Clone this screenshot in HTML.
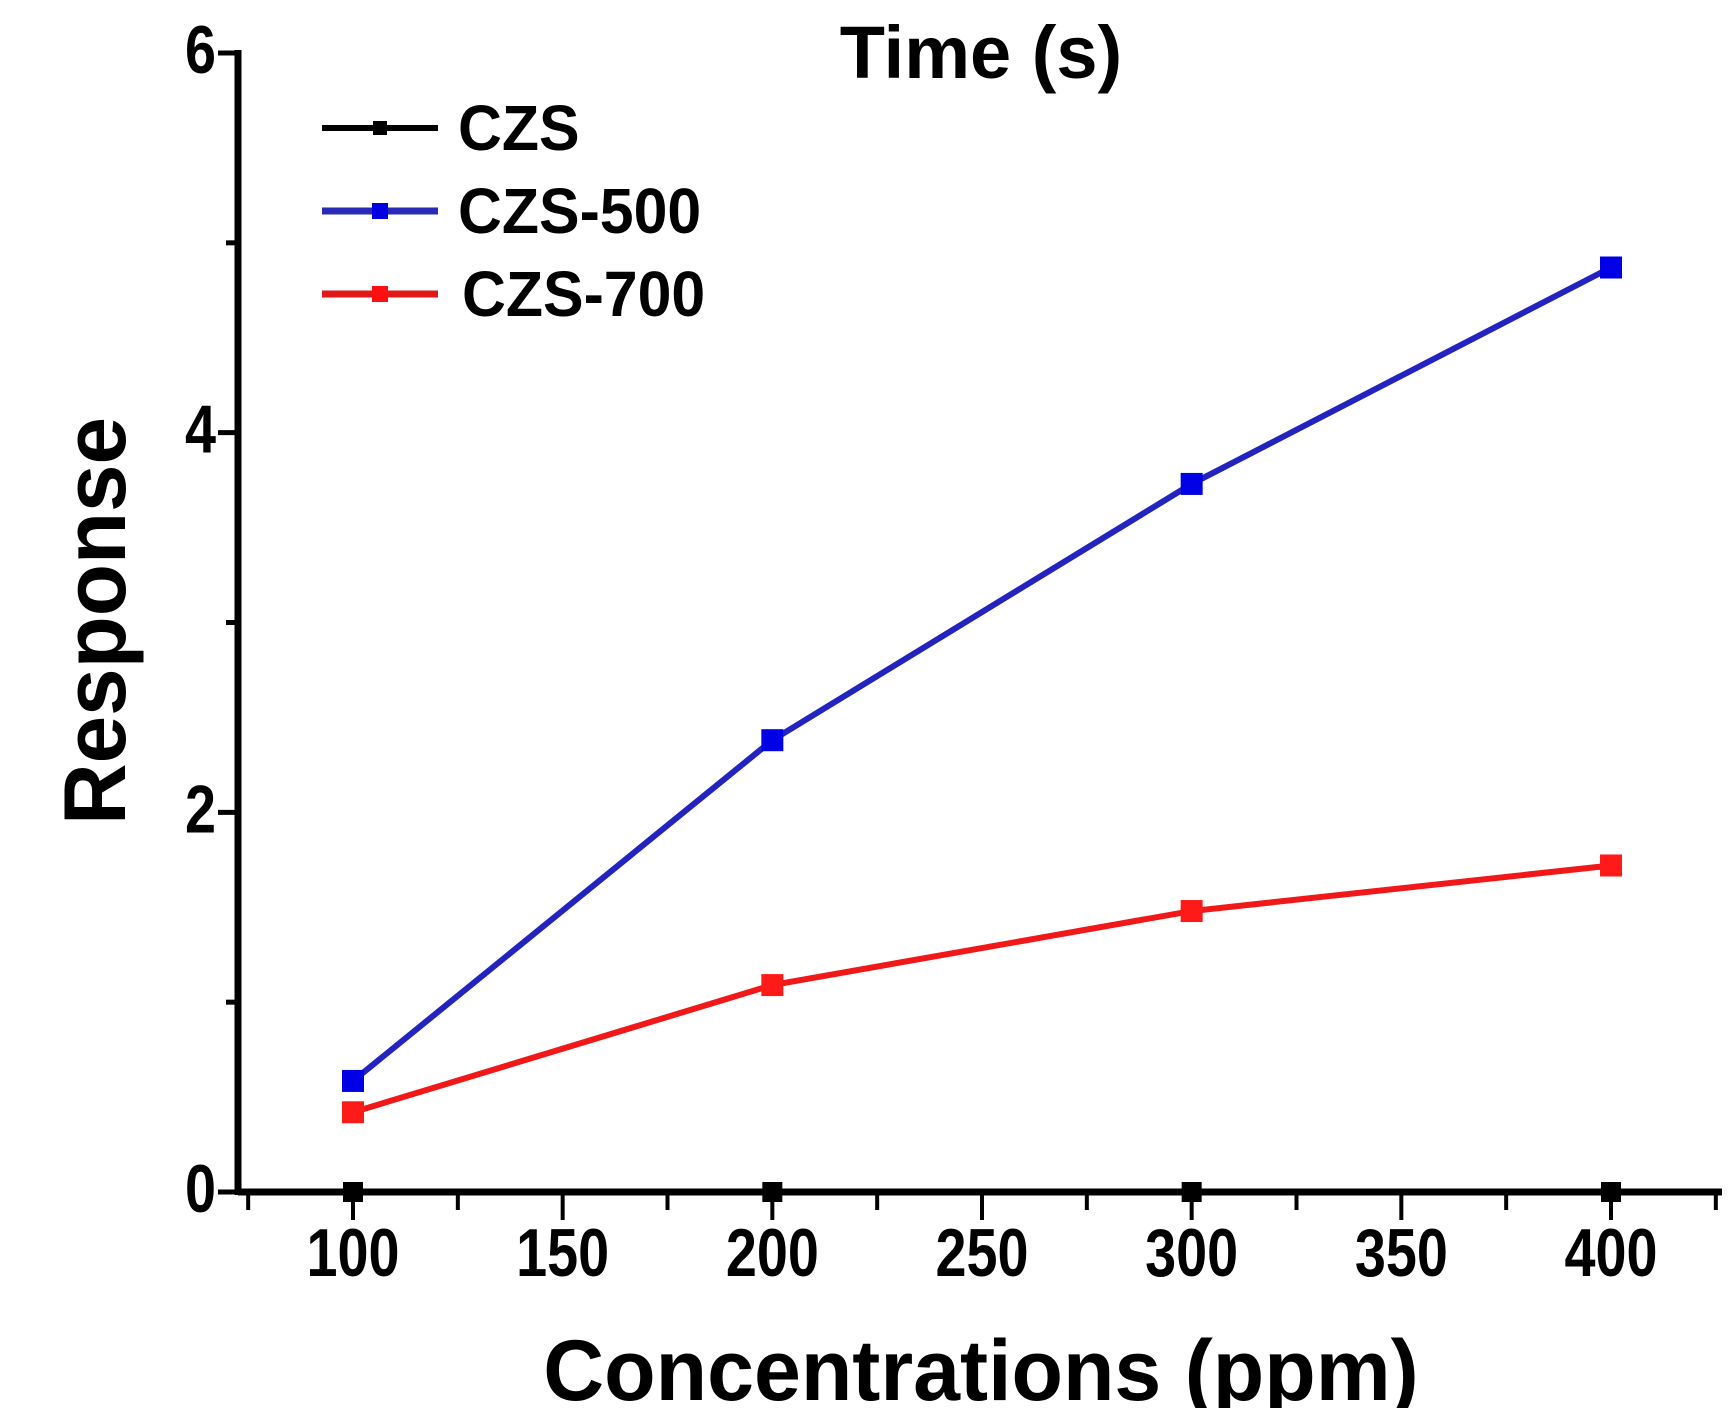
<!DOCTYPE html>
<html><head><meta charset="utf-8"><style>
html,body{margin:0;padding:0;background:#fff;}
svg{display:block;font-family:"Liberation Sans",Arial,sans-serif;font-weight:bold;}
</style></head><body>
<svg id="chart" width="1730" height="1408" viewBox="0 0 1730 1408">
<g id="axes"></g>
<g id="series"></g>
<text x="981" y="78" font-size="74" text-anchor="middle">Time (s)</text>
<text x="981" y="1400" font-size="86" text-anchor="middle" transform="translate(981 0) scale(0.98 1) translate(-981 0)">Concentrations (ppm)</text>
<text x="0" y="0" font-size="88" text-anchor="middle" transform="translate(125 621) rotate(-90) scale(0.97 1)">Response</text>
<g>
 <g>
  <line x1="322" y1="128" x2="438" y2="128" stroke="#000" stroke-width="6"/>
  <rect x="373" y="121" width="14" height="14" fill="#000"/>
  <text x="458" y="150" font-size="64" transform="translate(458 0) scale(0.95 1) translate(-458 0)">CZS</text>
 </g>
 <g>
  <line x1="322" y1="211" x2="438" y2="211" stroke="#2a2ab8" stroke-width="7"/>
  <rect x="372" y="203" width="16" height="16" fill="#0000e0"/>
  <text x="458" y="233" font-size="64" transform="translate(458 0) scale(0.95 1) translate(-458 0)">CZS-500</text>
 </g>
 <g>
  <line x1="322" y1="294" x2="438" y2="294" stroke="#e01818" stroke-width="7"/>
  <rect x="372" y="286" width="16" height="16" fill="#ff1010"/>
  <text x="462" y="316" font-size="64" transform="translate(462 0) scale(0.95 1) translate(-462 0)">CZS-700</text>
 </g>
</g>
</svg>
<script>
const categories = [100, 200, 300, 400];
const czsValues = [0, 0, 0, 0];
const czs500Values = [0.585, 2.38, 3.73, 4.87];
const czs700Values = [0.42, 1.09, 1.48, 1.72];
const xTickLabels = [100, 150, 200, 250, 300, 350, 400];
const yTickLabels = [0, 2, 4, 6];

const NS = "http://www.w3.org/2000/svg";
const X0 = 238, X100 = 353, X400 = 1611, XEND = 1722;
const Y0 = 1192, Y6 = 53;
function xs(v){ return X100 + (v - 100) * (X400 - X100) / 300; }
function ys(v){ return Y0 - v * (Y0 - Y6) / 6; }
function mk(tag, attrs, parent){
  const e = document.createElementNS(NS, tag);
  for (const k in attrs) e.setAttribute(k, attrs[k]);
  parent.appendChild(e); return e;
}
const axes = document.getElementById('axes');
const series = document.getElementById('series');

const xAxis = mk('line', {x1: X0, y1: Y0, x2: XEND, y2: Y0, stroke: '#000', 'stroke-width': 7}, axes);


const yAxis = mk('line', {x1: X0, y1: Y6 - 3, x2: X0, y2: Y0 + 3, stroke: '#000', 'stroke-width': 7}, axes);



for (let v = 75; v <= 425; v += 25) {
  const x = xs(v);
  if (x > XEND + 1) break;
  const major = (v % 50 === 0);
  const t = mk('line', {x1: x, y1: Y0, x2: x, y2: Y0 + (major ? 28 : 18), stroke: '#000', 'stroke-width': 4}, axes);
  
  
}
xTickLabels.forEach(v => {
  const t = mk('text', {x: 0, y: 0, 'font-size': 68, 'text-anchor': 'middle', transform: `translate(${xs(v)} ${Y0 + 84}) scale(0.82 1)`}, axes);
  t.textContent = v;
  
  
});
for (let v = 0; v <= 6; v += 1) {
  const y = ys(v);
  const major = (v % 2 === 0);
  const t = mk('line', {x1: X0 - (major ? 20 : 12), y1: y, x2: X0, y2: y, stroke: '#000', 'stroke-width': 5}, axes);
  
  
}
yTickLabels.forEach(v => {
  const t = mk('text', {x: 0, y: 0, 'font-size': 68, 'text-anchor': 'end', transform: `translate(${X0 - 22} ${ys(v) + 20}) scale(0.82 1)`}, axes);
  t.textContent = v;
  
  
});

function drawSeries(vals, lineColor, markColor, name, size){
  const g = mk('g', {}, series);
  
  
  const pts = categories.map((c, i) => xs(c) + ',' + ys(vals[i])).join(' ');
  const pl = mk('polyline', {points: pts, fill: 'none', stroke: lineColor, 'stroke-width': 6}, g);
  
  
  categories.forEach((c, i) => {
    const r = mk('rect', {x: xs(c) - size/2, y: ys(vals[i]) - size/2, width: size, height: size, fill: markColor}, g);
    
    
  });
}
drawSeries(czsValues, '#000', '#000', 'czs-series', 20);
drawSeries(czs500Values, '#2323c0', '#0000e6', 'czs-500-series', 22);
drawSeries(czs700Values, '#f01818', '#ff1a1a', 'czs-700-series', 22);
</script>
</body></html>
